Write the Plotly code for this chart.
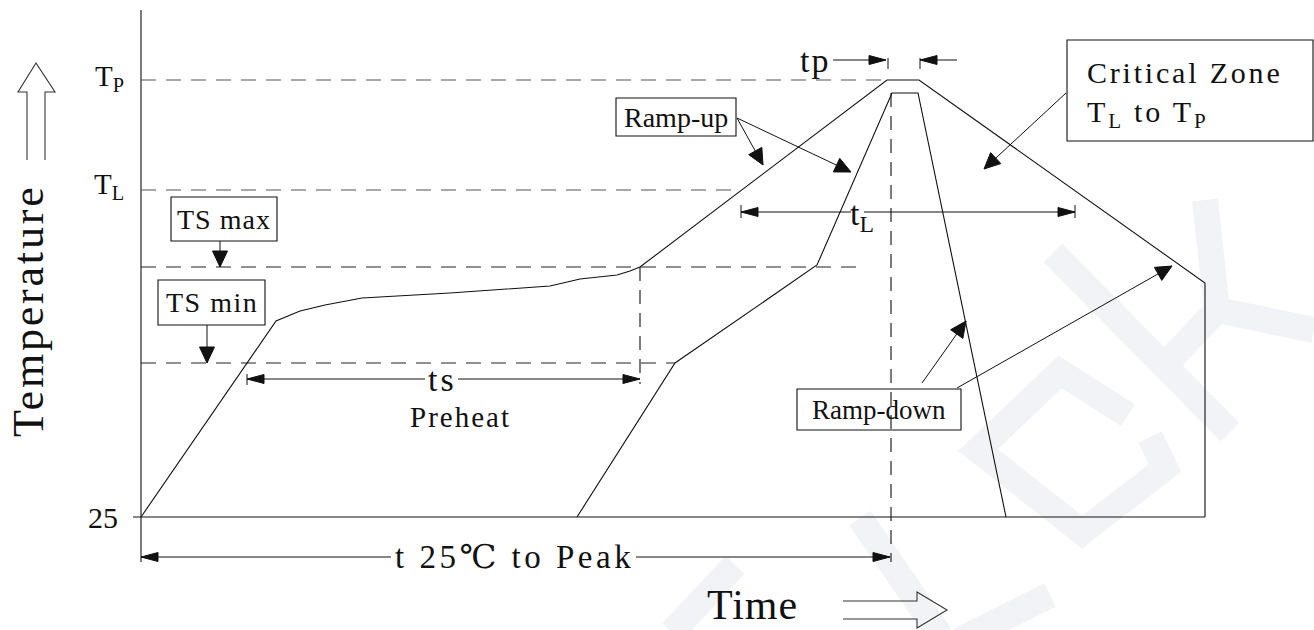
import math
import plotly.graph_objects as go

# ---------------- data (diagram units: time -> x, temperature level -> y) -------------
# Temperature levels (vertical positions of reference lines)
T_25, T_SMIN, T_SMAX, T_L, T_P, T_P_INNER = 517, 363, 267, 190, 80, 93

# Upper (maximum) reflow profile
outer_time = [141, 276, 300, 325, 362, 450, 550, 580, 617, 630, 640, 887, 919, 1205, 1205]
outer_temp = [T_25, 321, 311, 305, 298, 293, 286, 279, 275, 271, T_SMAX, T_P, T_P, 283, T_25]

# Lower (minimum) reflow profile
inner_time = [577, 675, 817, 892, 918, 1006]
inner_temp = [T_25, T_SMIN, 265, T_P_INNER, T_P_INNER, T_25]

# dashed reference levels: (level, x_start, x_end, colour)
dashed_levels = [(T_P, 141, 887, "#555555"), (T_L, 141, 741, "#555555"),
                 (T_SMAX, 141, 860, "#222222"), (T_SMIN, 141, 675, "#222222")]
# dashed verticals: (time, y_top, y_bottom)
dashed_verticals = [(640, T_SMAX, 384), (891, T_P_INNER, 562)]

# label boxes: text, x0, y0, x1, y1, font size, letter spacing
boxes = [("TS max", 171, 197, 277, 241, 28, 1), ("TS min", 158, 280, 265, 325, 28, 1.5),
         ("Ramp-up", 616, 98, 736, 136, 28, 0), ("Ramp-down", 797, 389, 961, 430, 27, 0)]

# pointer arrows: (tail_x, tail_y, tip_x, tip_y)
pointer_arrows = [(220, 241, 220, 267), (207, 325, 207, 363),
                  (737, 118, 763, 165), (737, 118, 851, 172),
                  (1066, 93, 984, 169), (922, 383, 966, 321),
                  (957, 388, 1172, 266)]

# dimension arrows: y, x_left, x_right, label gap start, label gap end
dim_ts = (379, 247, 640, 425, 458)
dim_tl = (212, 741, 1075, 851, 864)
dim_t25 = (557, 141, 890, 391, 636)

INK = "#111111"
FONT = "Liberation Serif, DejaVu Serif, serif"

fig = go.Figure()


def line(xs, ys, color=INK, width=1.1, dash=None):
    fig.add_trace(go.Scatter(x=xs, y=ys, mode="lines", hoverinfo="skip", showlegend=False,
                             line=dict(color=color, width=width, dash=dash)))


def head(tx, ty, fx, fy, L=17, w=4.5):
    dx, dy = tx - fx, ty - fy
    n = math.hypot(dx, dy)
    ux, uy = dx / n, dy / n
    bx, by = tx - ux * L, ty - uy * L
    px, py = -uy * w, ux * w
    fig.add_trace(go.Scatter(x=[tx, bx + px, bx - px, tx], y=[ty, by + py, by - py, ty],
                             mode="lines", fill="toself", fillcolor=INK, hoverinfo="skip",
                             showlegend=False, line=dict(color=INK, width=1)))


# ---------------- watermark (faint logo) ----------------
WM = "#f2f3f6"
wm_paths = [
    "M 1053,253 L 1230,432",
    "M 1205,200 L 1217,310 L 1314,330",
    "M 1217,310 L 1168,362",
    "M 1128,415 L 1060,372 L 978,450 L 1082,532 L 1165,468 L 1150,437",
    "M 1050,595 L 960,640",
    "M 860,518 L 940,635",
    "M 735,565 L 672,632",
]
shapes = []
for p in wm_paths:
    shapes.append(dict(type="path", path=p, xref="x", yref="y", layer="below",
                       line=dict(color=WM, width=26)))

# ---------------- axes frame ----------------
line([141, 141], [10, 562])
line([133, 1205], [T_25, T_25])

# dashed reference lines
for lvl, xa, xb, col in dashed_levels:
    line([xa, xb], [lvl, lvl], color=col, width=1.1, dash="15px,10px")
for xv, ya, yb in dashed_verticals:
    line([xv, xv], [ya, yb], color=INK, width=1.1, dash="14px,9px")

# profiles
line(outer_time, outer_temp)
line(inner_time, inner_temp)

# boxes
for txt, x0, y0, x1, y1, fs, ls in boxes:
    shapes.append(dict(type="rect", x0=x0, y0=y0, x1=x1, y1=y1, xref="x", yref="y",
                       line=dict(color=INK, width=1.1), fillcolor="rgba(0,0,0,0)"))
shapes.append(dict(type="rect", x0=1067, y0=40, x1=1313, y1=141, xref="x", yref="y",
                   line=dict(color=INK, width=1.1)))

# pointer arrows
for ax_, ay_, tx, ty in pointer_arrows:
    line([ax_, tx], [ay_, ty], width=1)
    head(tx, ty, ax_, ay_, L=16, w=7.5)

# dimension arrows
for (yy, xl, xr, g0, g1) in (dim_ts, dim_tl, dim_t25):
    line([xl, g0], [yy, yy], width=1)
    line([g1, xr], [yy, yy], width=1)
    head(xl, yy, xr, yy)
    head(xr, yy, xl, yy)
line([247, 247], [374, 385], width=1)
line([741, 741], [205, 218], width=1)
line([1075, 1075], [205, 218], width=1)

# tp arrows
line([833, 886], [60, 60], width=1)
head(886, 60, 833, 60)
line([957, 920], [60, 60], width=1)
head(920, 60, 957, 60)
line([888, 888], [58, 69], width=1)
line([920, 920], [58, 69], width=1)

# hollow arrows for axis names
shapes.append(dict(type="path", xref="x", yref="y",
                   path="M 27,160 L 27,92 L 18,92 L 36,63 L 55,92 L 45,92 L 45,160",
                   line=dict(color="#333333", width=1.1)))
shapes.append(dict(type="path", xref="x", yref="y",
                   path="M 843,601 L 917,601 L 917,592 L 947,610 L 917,628 L 917,619 L 843,619",
                   line=dict(color="#333333", width=1.1)))

# ---------------- texts ----------------
ann = []


def text(x, y, s, size, xa="center", ang=0, ls=0):
    if ls:
        s = f'<span style="letter-spacing:{ls}px">{s}</span>'
    ann.append(dict(x=x, y=y, text=s, showarrow=False, xref="x", yref="y", xanchor=xa,
                    yanchor="middle", textangle=ang, font=dict(family=FONT, size=size, color=INK)))


for txt, x0, y0, x1, y1, fs, ls in boxes:
    text((x0 + x1) / 2, (y0 + y1) / 2, txt, fs, ls=ls)
text(1085, 72, "Critical Zone", 30, xa="left", ls=2.8)
text(1085, 114, "T<sub>L</sub> to T<sub>P</sub>", 30, xa="left", ls=2.8)
text(126, 78, "T<sub>P</sub>", 29, xa="right")
text(126, 186, "T<sub>L</sub>", 29, xa="right")
text(120, 517, "25", 30, xa="right")
text(442, 379, "ts", 34, ls=3)
text(460, 417, "Preheat", 29, ls=2)
text(514, 557, "t 25℃ to Peak", 33, ls=3.5)
text(862, 216, "t<sub>L</sub>", 34)
text(815, 60, "tp", 34, ls=2)
text(752, 605, "Time", 42, ls=1)
text(28, 311, "Temperature", 44, ang=-90, ls=2.8)

fig.update_layout(
    width=1314, height=630, autosize=False,
    margin=dict(l=0, r=0, t=0, b=0),
    paper_bgcolor="white", plot_bgcolor="white",
    xaxis=dict(range=[0, 1314], visible=False, fixedrange=True),
    yaxis=dict(range=[630, 0], visible=False, fixedrange=True),
    shapes=shapes, annotations=ann, showlegend=False,
)

fig.write_html("out.html", post_script="document.body.style.margin='0';",
               config={"displayModeBar": False})
